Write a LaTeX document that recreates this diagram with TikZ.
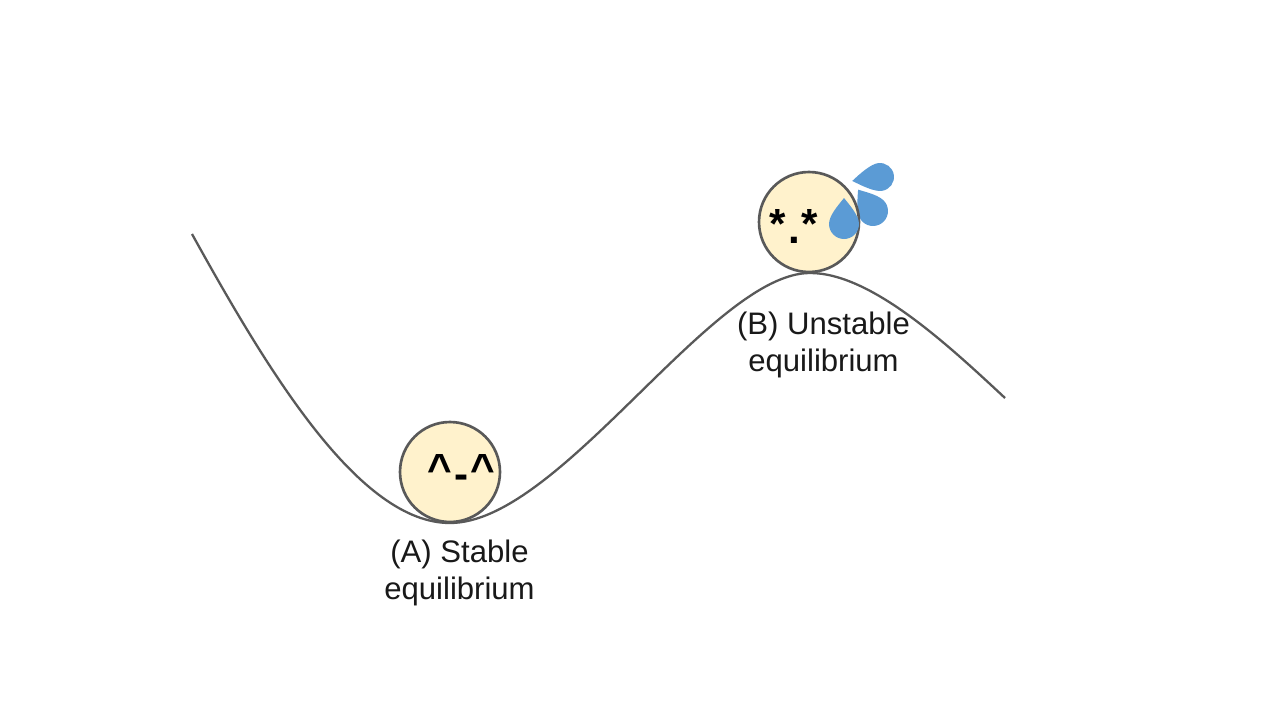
\documentclass[tikz,border=0pt]{standalone}
\usepackage{fontspec}
\setmainfont{Liberation Sans}
\newcommand{\dropshape}[5]{% cx, cy, r, L, rot
  \fill[dropfill,shift={(#1,#2)},rotate=#5]
    (0,-#4) .. controls ({0.42*#3},{-0.7*#4}) and (#3,{-0.55*#3}) .. (#3,0)
    .. controls (#3,{0.55*#3}) and ({0.55*#3},#3) .. (0,#3)
    .. controls ({-0.55*#3},#3) and (-#3,{0.55*#3}) .. (-#3,0)
    .. controls (-#3,{-0.55*#3}) and ({-0.42*#3},{-0.7*#4}) .. (0,-#4) -- cycle;}
\definecolor{facefill}{HTML}{FFF2CC}
\definecolor{dropblue}{HTML}{5B9BD5}
\definecolor{lineg}{HTML}{595959}
\tikzset{
  dropfill/.style={fill=dropblue},
  face/.style={circle,draw=lineg,fill=facefill,line width=1.5pt,minimum size=2.0cm,inner sep=0pt},
  curveline/.style={draw=lineg,line width=1.3pt},
  captext/.style={align=center,font=\fontsize{17.7pt}{21pt}\selectfont,text=black!90,inner sep=0pt},
  expr/.style={font=\fontsize{24pt}{24pt}\selectfont\bfseries,text=black,inner sep=0pt,anchor=base},
  exprb/.style={font=\fontsize{24pt}{24pt}\selectfont\bfseries,text=black,inner sep=0pt,anchor=base}
}
\begin{document}
\begin{tikzpicture}[x=0.02cm,y=-0.02cm]
\useasboundingbox (0,0) rectangle (1280,720);
\fill[white] (0,0) rectangle (1280,720);
\coordinate (s) at (192,234);
\coordinate (m) at (450,523);
\coordinate (p) at (810,273);
\coordinate (e) at (1005,398);
\draw[curveline] (s) .. controls (270,375) and (360,523) .. (m)
  .. controls (560,523) and (712,273) .. (p)
  .. controls (870,273) and (945,342) .. (e);
\dropshape{873}{211}{15}{26}{35}
\node[face] (fa) at (450,472) {};
\node[face] (fb) at (809,222) {};
\node[expr] (ea) at (461.5,483) {\^{}\hspace{1.4pt}\raisebox{-3.4pt}{-}\hspace{1.4pt}\^{}};
\node[exprb] (eb) at (794,243) {\raisebox{2.4pt}{*}\hspace{1.2pt}.\hspace{1.2pt}\raisebox{2.4pt}{*}};
\dropshape{844}{224}{15}{26}{0}
\dropshape{880}{177}{14}{28}{98}
\node[captext] (la) at (459.5,573) {(A) Stable\\equilibrium};
\node[captext] (lb) at (823.5,345) {(B) Unstable\\equilibrium};
\end{tikzpicture}
\end{document}
